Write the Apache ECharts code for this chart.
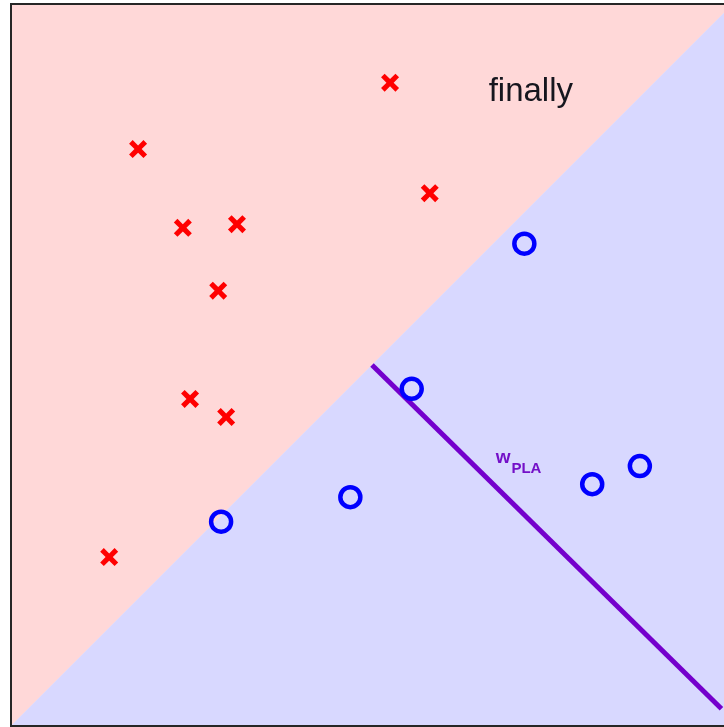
<!DOCTYPE html>
<html>
<head>
<meta charset="utf-8">
<script src="https://cdn.jsdelivr.net/npm/echarts@6/dist/echarts.min.js"></script>
<style>
  html, body { margin: 0; padding: 0; background: #fff; }
  #chart { width: 724px; height: 727px; }
</style>
</head>
<body>
<div id="chart"></div>
<script>
// Training points in the unit square
const crossX = [0.525, 0.176, 0.580, 0.238, 0.313, 0.287, 0.248, 0.298, 0.136];
const crossY = [0.891, 0.799, 0.738, 0.690, 0.695, 0.603, 0.453, 0.428, 0.234];
const circleX = [0.711, 0.555, 0.871, 0.805, 0.470, 0.291];
const circleY = [0.668, 0.467, 0.360, 0.335, 0.317, 0.283];

// Final weight vector drawn from the middle of the boundary
const wX = [0.5, 0.984];
const wY = [0.5, 0.024];

// Regions on either side of the decision boundary y = x
const positiveRegion = [[0, 0], [0, 1], [1, 1]];
const negativeRegion = [[0, 0], [1, 0], [1, 1]];

const titleText = 'finally';
const titlePos = [0.720, 0.878];
const wLabelPos = [0.703, 0.365];

const zip = (xs, ys) => xs.map((x, i) => [x, ys[i]]);

const crossPath = 'path://M0,4 L4,0 L10,6 L16,0 L20,4 L14,10 L20,16 L16,20 L10,14 L4,20 L0,16 L6,10 Z';

function regionSeries(points, color) {
  return {
    type: 'custom',
    silent: true,
    z: 1,
    data: [0],
    renderItem: function (params, api) {
      return {
        type: 'polygon',
        shape: { points: points.map(p => api.coord(p)) },
        style: { fill: color, stroke: color, lineWidth: 0.5 }
      };
    }
  };
}

const chart = echarts.init(document.getElementById('chart'), null, { renderer: 'canvas' });
const hiddenAxis = {
  min: 0, max: 1,
  axisLine: { show: false }, axisTick: { show: false },
  axisLabel: { show: false }, splitLine: { show: false }
};

chart.setOption({
  animation: false,
  backgroundColor: '#ffffff',
  grid: {
    left: 11, top: 4, width: 722, height: 722,
    outerBoundsMode: 'none',
    containLabel: false,
    show: true, borderColor: '#262626', borderWidth: 2,
    backgroundColor: 'transparent', z: 10
  },
  xAxis: Object.assign({ type: 'value' }, hiddenAxis),
  yAxis: Object.assign({ type: 'value' }, hiddenAxis),
  series: [
    regionSeries(positiveRegion, '#ffd8d8'),
    regionSeries(negativeRegion, '#d8d8ff'),
    {
      type: 'line',
      z: 3,
      data: zip(wX, wY),
      symbol: 'none',
      lineStyle: { color: '#7400cc', width: 5 }
    },
    {
      type: 'scatter',
      z: 4,
      data: zip(crossX, crossY),
      symbol: crossPath,
      symbolSize: 18,
      itemStyle: { color: '#ff0000', opacity: 1 }
    },
    {
      type: 'scatter',
      z: 4,
      data: zip(circleX, circleY),
      symbol: 'circle',
      symbolSize: 20,
      itemStyle: { color: 'rgba(0,0,0,0)', borderColor: '#0000ff', borderWidth: 4.5, opacity: 1 }
    },
    {
      type: 'scatter',
      z: 5,
      symbolSize: 0,
      itemStyle: { opacity: 1 },
      data: [titlePos],
      label: {
        show: true, position: 'inside', formatter: titleText,
        fontFamily: 'Liberation Sans, Arial, sans-serif', fontSize: 33, color: '#16161e'
      }
    },
    {
      type: 'scatter',
      z: 5,
      symbolSize: 0,
      itemStyle: { opacity: 1 },
      data: [wLabelPos],
      label: {
        show: true, position: 'inside',
        formatter: '{w|w}{s|PLA}',
        rich: {
          w: { fontFamily: 'Liberation Sans, Arial, sans-serif', fontWeight: 'bold', fontSize: 19, color: '#7410c8', verticalAlign: 'top', padding: [0, 1, 10, 0] },
          s: { fontFamily: 'Liberation Sans, Arial, sans-serif', fontWeight: 'bold', fontSize: 15, color: '#7410c8', padding: [12, 0, 0, 0] }
        }
      }
    }
  ]
});
</script>
</body>
</html>
